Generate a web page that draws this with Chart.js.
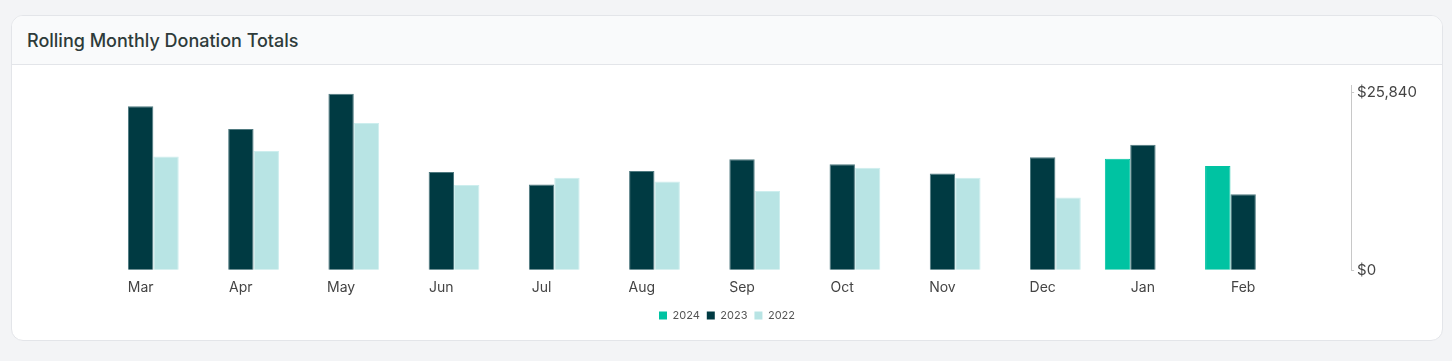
<!DOCTYPE html>
<html>
<head>
<meta charset="utf-8">
<script src="https://cdn.jsdelivr.net/npm/chart.js@4"></script>
<style>
  html, body { margin: 0; padding: 0; background: #f3f4f6; font-family: Inter, sans-serif; }
  .card {
    position: absolute; left: 11px; top: 15px; width: 1430px; height: 324px;
    background: #fff; border: 1px solid #e3e5e9; border-radius: 12px; overflow: hidden;
  }
  .card-header {
    height: 48px; background: #f9fafb; border-bottom: 1px solid #e3e5e9;
  }
  .card-header h3 {
    margin: 0; padding-left: 15px; line-height: 49px;
    font-size: 18px; font-weight: 500; color: #2e3b3a;
  }
  .chart-box { position: absolute; left: 0; top: 49px; width: 1430px; height: 275px; }
</style>
</head>
<body>
<div class="card">
  <div class="card-header"><h3>Rolling Monthly Donation Totals</h3></div>
  <div class="chart-box"><canvas id="donationChart"></canvas></div>
</div>
<script>
Chart.defaults.font.family = 'Inter, sans-serif';
Chart.defaults.color = '#444';

const months = ["Mar", "Apr", "May", "Jun", "Jul", "Aug", "Sep", "Oct", "Nov", "Dec", "Jan", "Feb"];
const totals2024 = [null, null, null, null, null, null, null, null, null, null, 16170, 15110];
const totals2023 = [23790, 20490, 25600, 14240, 12450, 14390, 16090, 15360, 14050, 16380, 18210, 11040];
const totals2022 = [16520, 17290, 21360, 12350, 13410, 12890, 11480, 14860, 13410, 10560, null, null];
const yTicks = [0, 25840];

function points(values) {
    return values.map((v, i) => ({ x: i, y: v }));
}

const donationData = {
    datasets: [{
        label: "2024",
        backgroundColor: "#00c3a2",
        borderColor: "#00c3a2",
        borderWidth: 1,
        data: points(totals2024),
    }, {
        label: "2023",
        backgroundColor: "#003a42",
        borderColor: "#4f7a80",
        borderWidth: 1,
        data: points(totals2023),
    }, {
        label: "2022",
        backgroundColor: "#b8e4e4",
        borderColor: "#cdeeee",
        borderWidth: 1,
        data: points(totals2022),
    }]
};

const donationConfig = {
    type: 'bar',
    data: donationData,
    options: {
        responsive: true,
        maintainAspectRatio: false,
        animation: false,
        categoryPercentage: 0.76,
        barPercentage: 1.0,
        layout: {
            padding: { left: 22, top: 20, right: 22, bottom: 9 }
        },
        scales: {
            x: {
                type: 'linear',
                offset: false,
                min: -1.064,
                max: 12.077,
                grid: { display: false, offset: false },
                border: { display: false },
                afterFit: (scale) => { scale.height += 6; },
                ticks: {
                    stepSize: 1,
                    autoSkip: false,
                    maxRotation: 0,
                    padding: 1,
                    font: { size: 14 },
                    callback: (v) => months[v]
                }
            },
            y: {
                position: 'right',
                min: 0,
                max: 26880,
                afterBuildTicks: (scale) => {
                    scale.ticks = yTicks.map(v => ({ value: v }));
                },
                grid: { drawOnChartArea: false, tickLength: 3, color: '#c8c8c8' },
                border: { display: true, color: '#c8c8c8' },
                ticks: {
                    padding: 3,
                    font: { size: 15 },
                    callback: (v) => '$' + v.toLocaleString('en-US')
                }
            }
        },
        plugins: {
            legend: {
                position: 'bottom',
                labels: {
                    boxWidth: 8,
                    boxHeight: 8,
                    padding: 7,
                    font: { size: 11 },
                    color: '#555',
                    generateLabels: (chart) => {
                        const items = Chart.defaults.plugins.legend.labels.generateLabels(chart);
                        items.forEach(it => { it.lineWidth = 0; it.strokeStyle = 'transparent'; });
                        return items;
                    }
                }
            },
            tooltip: { enabled: false }
        }
    }
};

var ctx = document.getElementById("donationChart");
var donationChart = new Chart(ctx, donationConfig);
</script>
</body>
</html>
